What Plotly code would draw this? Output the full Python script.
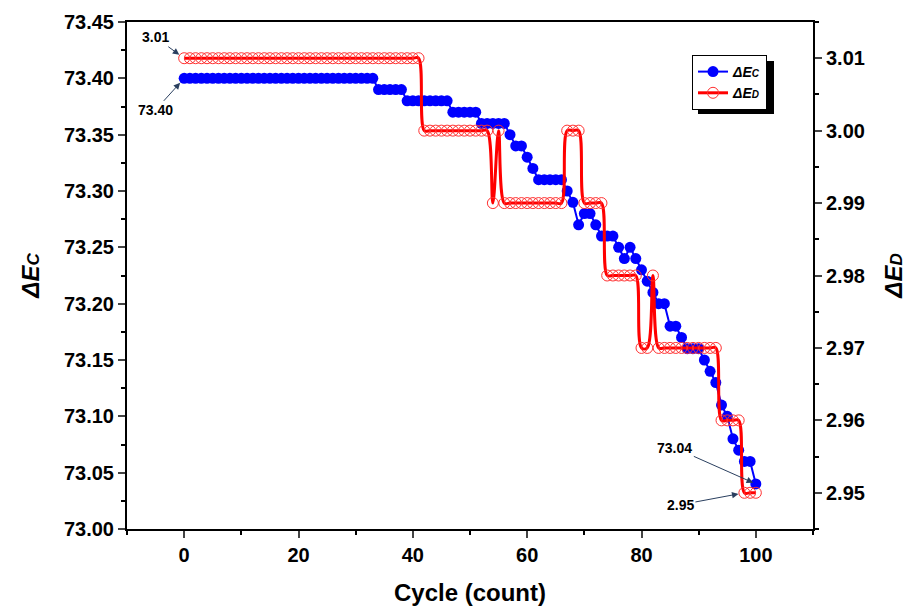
import plotly.graph_objects as go

cycles = list(range(0, 101))

dEc = ([73.40] * 34 + [73.39] * 5 + [73.38] * 8 + [73.37] * 5 + [73.36] * 5 +
       [73.35, 73.34, 73.34, 73.33, 73.32] + [73.31] * 5 +
       [73.30, 73.29, 73.27, 73.28, 73.28, 73.27, 73.26, 73.26, 73.26, 73.25,
        73.24, 73.25, 73.24, 73.23, 73.22, 73.21, 73.20, 73.20, 73.18, 73.18,
        73.17, 73.16, 73.16, 73.16, 73.15, 73.14, 73.13, 73.11, 73.10, 73.08,
        73.07, 73.06, 73.06, 73.04])

dED = ([3.01] * 42 + [3.00] * 12 + [2.99, 3.00] + [2.99] * 11 + [3.00] * 3 +
       [2.99] * 4 + [2.98] * 6 + [2.97] * 2 + [2.98] + [2.97] * 11 +
       [2.96] * 4 + [2.95] * 3)

x_ticks = [0, 20, 40, 60, 80, 100]

FONT = "Liberation Sans, Arial, sans-serif"

name_c = "<b><i>ΔE<span style='font-size:10px'>C</span></i></b>"
name_d = "<b><i>ΔE<span style='font-size:10px'>D</span></i></b>"

fig = go.Figure()
fig.add_trace(go.Scatter(
    x=cycles, y=dEc, name=name_c, mode="lines+markers",
    line=dict(color="#0000FF", width=2),
    marker=dict(color="#0000FF", size=11, symbol="circle"),
))
fig.add_trace(go.Scatter(
    x=cycles, y=dED, name=name_d, mode="lines+markers", yaxis="y2",
    line=dict(color="#FF0000", width=3, shape="spline", smoothing=1),
    marker=dict(symbol="circle-open", size=11, color="#FF3030",
                line=dict(color="#FF3030", width=1)),
))

tick_font = dict(family=FONT, size=20, color="black", weight="bold")

L, R, T, B = 127, 94, 22, 77
PW, PH = 907 - L - R, 606 - T - B


def px_x(p):
    return (p - L) / PW


def px_y(p):
    return (606 - B - p) / PH


fig.update_layout(
    width=907, height=606,
    margin=dict(l=L, r=R, t=T, b=B, autoexpand=False),
    paper_bgcolor="white", plot_bgcolor="white",
    showlegend=True,
    legend=dict(
        x=px_x(692), y=px_y(55), xanchor="left", yanchor="top",
        bgcolor="white", bordercolor="black", borderwidth=1,
        font=dict(family=FONT, size=14, color="black"),
        tracegroupgap=0, itemwidth=30,
    ),
    xaxis=dict(
        range=[-10, 110], tickvals=x_ticks, ticks="outside", ticklen=7,
        tickwidth=2, showline=True, linewidth=2, linecolor="black",
        mirror=True, showgrid=False, zeroline=False, tickfont=tick_font,
        automargin=False,
        minor=dict(dtick=10, tick0=0, ticks="outside", ticklen=4, tickwidth=2,
                   tickcolor="black", showgrid=False),
        title=dict(text="<b>Cycle (count)</b>", standoff=22,
                   font=dict(family=FONT, size=24, color="black")),
    ),
    yaxis=dict(
        range=[73.00, 73.45], dtick=0.05, tick0=73.0, tickformat=".2f",
        ticks="outside", ticklen=7, tickwidth=2, showline=True, linewidth=2,
        linecolor="black", mirror=True, showgrid=False, zeroline=False,
        tickfont=tick_font, automargin=False,
        minor=dict(dtick=0.025, tick0=73.0, ticks="outside", ticklen=4,
                   tickwidth=2, tickcolor="black", showgrid=False),
        title=dict(text="<b><i>ΔE<span style='font-size:17px'>C</span></i></b>",
                   standoff=18, font=dict(family=FONT, size=24, color="black")),
    ),
    yaxis2=dict(
        range=[2.945, 3.015], dtick=0.01, tick0=2.95, tickformat=".2f",
        overlaying="y", side="right", automargin=False,
        ticks="outside", ticklen=7, tickwidth=2, showline=True, linewidth=2,
        linecolor="black", showgrid=False, zeroline=False, tickfont=tick_font,
        minor=dict(dtick=0.005, tick0=2.95, ticks="outside", ticklen=4,
                   tickwidth=2, tickcolor="black", showgrid=False),
        title=dict(text="<b><i>ΔE<span style='font-size:17px'>D</span></i></b>",
                   standoff=28, font=dict(family=FONT, size=24, color="black")),
    ),
)

# legend drop shadow
fig.add_shape(type="rect", xref="paper", yref="paper", layer="below",
              x0=px_x(698), x1=px_x(774), y0=px_y(114), y1=px_y(61),
              fillcolor="black", line=dict(width=0))

ann_font = dict(family=FONT, size=14, color="black", weight="bold")
fig.add_annotation(x=0, y=3.01, yref="y2", text="3.01", showarrow=True,
                   ax=-29, ay=-21, arrowhead=2, arrowsize=1.3, arrowwidth=1,
                   standoff=6, font=ann_font)
fig.add_annotation(x=0, y=73.40, yref="y", text="73.40", showarrow=True,
                   ax=-29, ay=32, arrowhead=2, arrowsize=1.3, arrowwidth=1,
                   standoff=6, font=ann_font)
fig.add_annotation(x=100, y=73.04, yref="y", text="73.04", showarrow=True,
                   ax=-81, ay=-36, arrowhead=2, arrowsize=1.3, arrowwidth=1,
                   standoff=3, font=ann_font)
fig.add_annotation(x=98, y=2.95, yref="y2", text="2.95", showarrow=True,
                   ax=-64, ay=12, arrowhead=2, arrowsize=1.3, arrowwidth=1,
                   standoff=6, font=ann_font)

fig.write_html("out.html", config={"displayModeBar": False},
               post_script="document.body.style.margin='0';"
                           "document.body.style.overflow='hidden';")
